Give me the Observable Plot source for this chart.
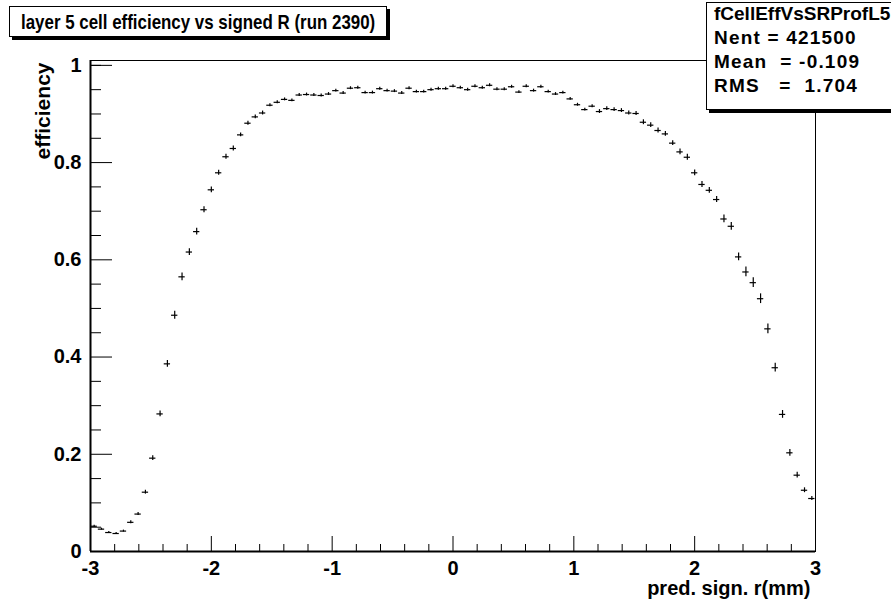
<!DOCTYPE html>
<html><head><meta charset="utf-8">
<script src="https://cdn.jsdelivr.net/npm/d3@7"></script>
<script src="https://cdn.jsdelivr.net/npm/@observablehq/plot@0.6"></script>
<style>
body{margin:0;background:#fff;}
#wrap{position:relative;width:891px;height:606px;overflow:hidden;font-family:"Liberation Sans",Arial,sans-serif;font-weight:bold;color:#000;}
#wrap svg{position:absolute;left:0;top:0;}
.box{position:absolute;background:#fff;border:1px solid #000;box-shadow:3px 3px 0 #000;box-sizing:border-box;}
#title{left:9px;top:6px;width:378px;height:31px;font-size:21px;line-height:29px;white-space:nowrap;overflow:hidden;}
#title span{display:inline-block;transform-origin:0 50%;transform:scaleX(0.805);position:absolute;left:11px;top:0;}
#stats{left:706px;top:2px;width:200px;height:108px;font-size:19px;}
#stats div{position:absolute;left:7px;white-space:pre;line-height:20px;}
#stats div.line{letter-spacing:1.2px;}
</style></head><body><div id="wrap"></div>
<script>
const xMin = -3, xMax = 3, yMax = 1.01;
const efficiency = [
 0.052,0.046,0.039,0.037,0.042,0.060,0.077,0.122,0.192,0.283,
 0.386,0.486,0.565,0.616,0.658,0.703,0.744,0.779,0.812,0.829,
 0.857,0.881,0.894,0.902,0.918,0.924,0.930,0.928,0.939,0.940,
 0.939,0.938,0.941,0.948,0.943,0.953,0.954,0.944,0.944,0.952,
 0.948,0.947,0.943,0.953,0.946,0.946,0.950,0.952,0.952,0.957,
 0.954,0.950,0.957,0.954,0.959,0.951,0.951,0.956,0.945,0.957,
 0.948,0.956,0.946,0.941,0.944,0.931,0.919,0.909,0.916,0.905,
 0.911,0.909,0.907,0.902,0.901,0.883,0.877,0.866,0.859,0.840,
 0.822,0.811,0.779,0.755,0.743,0.724,0.684,0.669,0.606,0.575,
 0.553,0.520,0.458,0.378,0.282,0.203,0.157,0.126,0.109
];
const errors = [
 0.002,0.002,0.002,0.002,0.002,0.003,0.003,0.004,0.005,0.006,
 0.007,0.008,0.008,0.007,0.007,0.006,0.006,0.005,0.005,0.005,
 0.004,0.004,0.004,0.004,0.003,0.003,0.003,0.003,0.003,0.003,
 0.003,0.003,0.003,0.003,0.003,0.003,0.003,0.003,0.003,0.003,
 0.003,0.003,0.003,0.003,0.003,0.003,0.003,0.003,0.003,0.003,
 0.003,0.003,0.003,0.003,0.003,0.003,0.003,0.003,0.003,0.003,
 0.003,0.003,0.003,0.003,0.003,0.003,0.003,0.003,0.003,0.004,
 0.004,0.004,0.004,0.004,0.004,0.005,0.005,0.005,0.005,0.005,
 0.006,0.006,0.006,0.006,0.006,0.006,0.008,0.008,0.008,0.010,
 0.010,0.010,0.010,0.009,0.008,0.007,0.006,0.005,0.004
];
const xMajorTicks = [-3,-2,-1,0,1,2,3];
const xMinorTicks = [-2.8,-2.6,-2.4,-2.2,-1.8,-1.6,-1.4,-1.2,-0.8,-0.6,-0.4,-0.2,0.2,0.4,0.6,0.8,1.2,1.4,1.6,1.8,2.2,2.4,2.6,2.8];
const yMajorTicks = [0,0.2,0.4,0.6,0.8,1];
const yMinorTicks = [0.05,0.1,0.15,0.25,0.3,0.35,0.45,0.5,0.55,0.65,0.7,0.75,0.85,0.9,0.95,1.0];
const titleText = "layer 5 cell efficiency vs signed R (run 2390)";
const xLabel = "pred. sign. r(mm)";
const yLabel = "efficiency";
const statsName = "fCellEffVsSRProfL5";
const statsLines = ["Nent = 421500", "Mean  = -0.109", "RMS   =  1.704"];

const W = 891, H = 606;
const mL = 90, mR = 76, mT = 60, mB = 55;
const plotH = H - mT - mB, plotW = W - mL - mR;
const bw = (xMax - xMin) / efficiency.length;
const data = efficiency.map((v, i) => ({x: xMin + (i + 0.5) * bw, y: v, e: errors[i]}));

const chart = Plot.plot({
  width: W, height: H,
  marginLeft: mL, marginRight: mR, marginTop: mT, marginBottom: mB,
  x: {domain: [xMin, xMax], axis: null},
  y: {domain: [0, yMax], axis: null},
  style: {fontFamily: '"Liberation Sans",Arial,sans-serif', fontWeight: "bold", background: "#fff"},
  marks: [
    Plot.frame({stroke: "#000", strokeWidth: 1}),
    Plot.tickX(xMajorTicks, {x: d => d, insetTop: plotH - 15, stroke: "#000", strokeWidth: 1}),
    Plot.tickX(xMinorTicks, {x: d => d, insetTop: plotH - 7, stroke: "#000", strokeWidth: 1}),
    Plot.tickY(yMajorTicks, {y: d => d, insetRight: plotW - 22, stroke: "#000", strokeWidth: 1}),
    Plot.tickY(yMinorTicks, {y: d => d, insetRight: plotW - 11, stroke: "#000", strokeWidth: 1}),
    Plot.ruleX([xMin], {stroke: "#000", strokeWidth: 2}),
    Plot.ruleY([0], {stroke: "#000", strokeWidth: 2}),
    Plot.ruleY(data, {x1: d => d.x - bw / 2, x2: d => d.x + bw / 2, y: "y", insetLeft: 0.5, insetRight: 0.5, stroke: "#000", strokeWidth: 1.2}),
    Plot.ruleX(data, {x: "x", y1: d => d.y - d.e, y2: d => d.y + d.e, stroke: "#000", strokeWidth: 1.2}),
    Plot.text(xMajorTicks, {x: d => d, frameAnchor: "bottom", dy: 23, text: d => String(d), fontSize: 20, fill: "#000"}),
    Plot.text(yMajorTicks, {y: d => d, frameAnchor: "left", dx: -9, textAnchor: "end", text: d => String(d), fontSize: 20, fill: "#000"}),
    Plot.text([xLabel], {frameAnchor: "bottom-right", textAnchor: "end", dx: -5, dy: 43, text: d => d, fontSize: 20, fill: "#000"}),
    Plot.text([yLabel], {frameAnchor: "top-left", textAnchor: "end", rotate: -90, dx: -55, dy: 2, text: d => d, fontSize: 21, fill: "#000"})
  ]
});
const wrap = document.getElementById("wrap");
wrap.appendChild(chart);

const tb = document.createElement("div");
tb.className = "box"; tb.id = "title";
const ts = document.createElement("span");
ts.textContent = titleText;
tb.appendChild(ts);
wrap.appendChild(tb);

const sb = document.createElement("div");
sb.className = "box"; sb.id = "stats";
const lines = [statsName, ...statsLines];
lines.forEach((t, i) => {
  const d = document.createElement("div");
  d.textContent = t;
  if (i > 0) d.className = "line";
  d.style.top = (1 + i * 24) + "px";
  sb.appendChild(d);
});
wrap.appendChild(sb);
</script></body></html>
